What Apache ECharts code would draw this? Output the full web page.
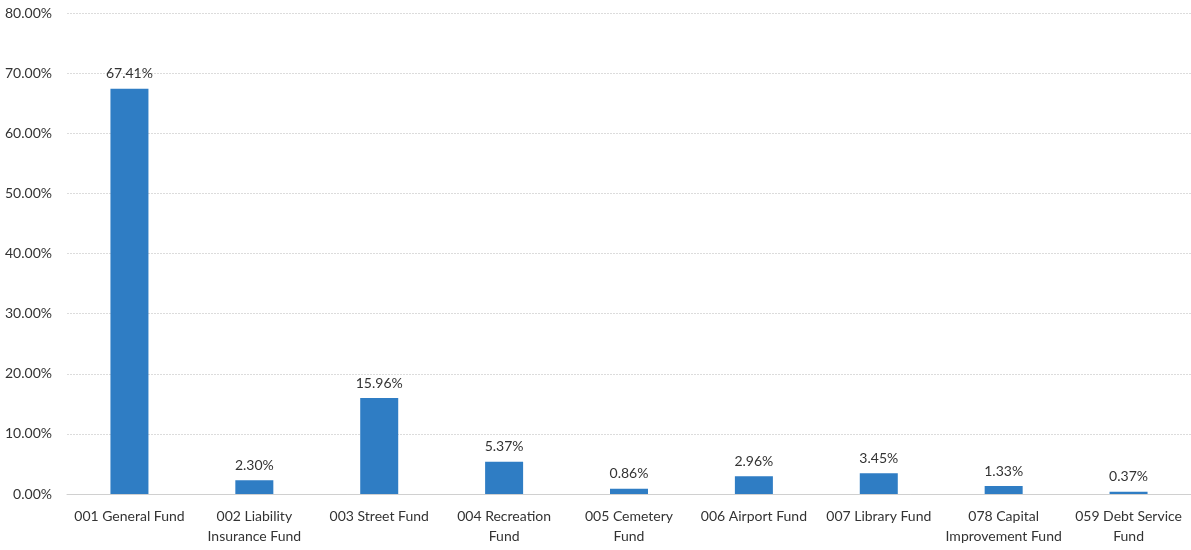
<!DOCTYPE html>
<html>
<head>
<meta charset="utf-8">
<script src="https://cdn.jsdelivr.net/npm/echarts@6/dist/echarts.min.js"></script>
<style>
  html, body { margin: 0; padding: 0; background: #fff; }
  #chart { width: 1191px; height: 550px; }
</style>
</head>
<body>
<div id="chart"></div>
<script>
// Fund categories (x axis)
const categories = [
  '001 General Fund',
  '002 Liability\nInsurance Fund',
  '003 Street Fund',
  '004 Recreation\nFund',
  '005 Cemetery\nFund',
  '006 Airport Fund',
  '007 Library Fund',
  '078 Capital\nImprovement Fund',
  '059 Debt Service\nFund'
];

// Share of total, in percent
const shares = [67.41, 2.30, 15.96, 5.37, 0.86, 2.96, 3.45, 1.33, 0.37];

// Value axis range
const yMin = 0;
const yMax = 80;
const yStep = 10;

const font = 'Lato, "Open Sans", sans-serif';
const chart = echarts.init(document.getElementById('chart'), null, { renderer: 'canvas' });

chart.setOption({
  animation: false,
  backgroundColor: '#ffffff',
  grid: { left: 67, right: 0, top: 13, bottom: 56 },
  xAxis: {
    type: 'category',
    data: categories,
    axisTick: { show: false },
    axisLine: { show: true, lineStyle: { color: '#d0d0d0', width: 1 } },
    axisLabel: {
      color: '#333',
      fontFamily: font,
      fontSize: 14,
      lineHeight: 20,
      margin: 12,
      interval: 0
    }
  },
  yAxis: {
    type: 'value',
    min: yMin,
    max: yMax,
    interval: yStep,
    axisLine: { show: false },
    axisTick: { show: false },
    splitLine: { lineStyle: { color: '#dcdcdc', width: 1, type: [2, 1] } },
    axisLabel: {
      color: '#333',
      fontFamily: font,
      fontSize: 14,
      margin: 15,
      formatter: v => v.toFixed(2) + '%'
    }
  },
  series: [{
    type: 'bar',
    data: shares,
    barWidth: 38,
    itemStyle: { color: '#2f7dc4' },
    label: {
      show: true,
      position: 'top',
      distance: 8,
      color: '#333',
      fontFamily: font,
      fontSize: 14,
      formatter: p => p.value.toFixed(2) + '%'
    }
  }]
});
</script>
</body>
</html>
